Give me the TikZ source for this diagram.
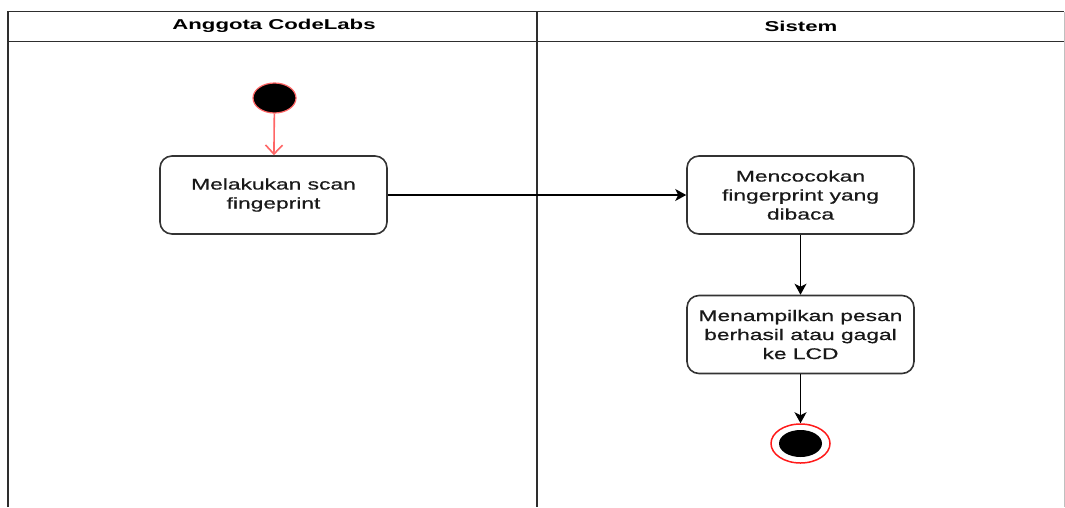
\documentclass[tikz,border=0pt]{standalone}
\usepackage{fontspec}
\setmainfont{Liberation Sans}
\newfontfamily\bodyfont{Liberation Sans}[FakeStretch=1.47,FakeBold=0.6]
\newfontfamily\headfont{Liberation Sans}[FakeStretch=1.55,BoldFont={Liberation Sans Bold}]
\usetikzlibrary{arrows.meta,shapes.geometric}
\definecolor{lane}{HTML}{2E2E2E}
\definecolor{boxline}{HTML}{333333}
\definecolor{startred}{HTML}{FF6666}
\definecolor{endred}{HTML}{FF1A1A}
\tikzset{
  lanehead/.style={font=\headfont\bfseries\fontsize{14.3}{17}\selectfont, text=black},
  action/.style={draw=boxline, line width=1.6pt, rounded corners=12pt, fill=white,
    minimum width=227pt, minimum height=78pt, align=center, inner sep=0pt,
    font=\bodyfont\fontsize{15.5}{19}\selectfont, text=black!90},
  initial/.style={ellipse, draw=startred, line width=1.2pt, fill=black,
    minimum width=43pt, minimum height=30pt, inner sep=0pt},
  finalring/.style={ellipse, draw=endred, line width=1.5pt, fill=white,
    minimum width=59pt, minimum height=39pt, inner sep=0pt},
  finaldot/.style={ellipse, fill=black, minimum width=43pt, minimum height=27pt, inner sep=0pt},
  flow/.style={draw=black, line width=1.5pt, -{Stealth[length=11pt,width=12pt,inset=3pt]}},
  startflow/.style={draw=startred, line width=1.6pt, -{Straight Barb[length=9pt,width=17pt]}}
}
\begin{document}
\begin{tikzpicture}[x=1pt,y=-1pt]
\useasboundingbox (0,0) rectangle (1065,507);
\fill[white] (0,0) rectangle (1065,507);

% swimlane frame
\draw[lane, line width=1.7pt] (8,507) -- (8,11.5) -- (1064,11.5);
\draw[lane, line width=1.7pt] (8,41.5) -- (1064,41.5);
\draw[lane, line width=2.2pt] (537,11.5) -- (537,507);
\draw[black!25, line width=1pt] (1064,11.5) -- (1064,507);

\node[lanehead] (laneA) at (274,26) {Anggota CodeLabs};
\node[lanehead] (laneB) at (801,26) {Sistem};

% activities
\node[initial] (start) at (274.5,98) {};
\node[action] (scan) at (273.5,195) {Melakukan scan\\fingeprint};
\node[action] (match) at (800.5,195) {Mencocokan\\fingerprint yang\\dibaca};
\node[action] (show) at (800.5,334.5) {Menampilkan pesan\\berhasil atau gagal\\ke LCD};
\node[finalring] (stop) at (800.5,443.5) {};
\node[finaldot] (stopdot) at (stop.center) {};

% control flow
\draw[startflow] (start) -- (scan);
\draw[flow] (scan) -- (match);
\draw[flow] (match) -- (show);
\draw[flow] (show) -- (stop);
\end{tikzpicture}
\end{document}
